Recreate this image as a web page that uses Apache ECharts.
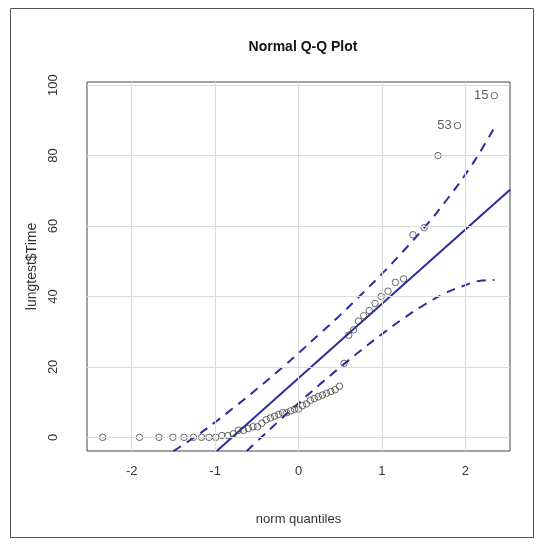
<!DOCTYPE html>
<html>
<head>
<meta charset="utf-8">
<script src="https://cdn.jsdelivr.net/npm/echarts@6/dist/echarts.min.js"></script>
<style>html,body{margin:0;padding:0;background:#fff;}#c{width:541px;height:544px;}</style>
</head>
<body>
<div id="c"></div>
<script>
// theoretical normal quantiles (x) and observed lungtest$Time (y)
var qx = [-2.348,-1.906,-1.673,-1.506,-1.373,-1.260,-1.162,-1.073,-0.993,-0.918,-0.848,-0.782,-0.720,-0.660,-0.602,-0.546,-0.492,-0.440,-0.388,-0.337,-0.287,-0.238,-0.190,-0.142,-0.095,-0.047,0.000,0.047,0.095,0.142,0.190,0.238,0.287,0.337,0.388,0.440,0.492,0.546,0.602,0.660,0.720,0.782,0.848,0.918,0.993,1.073,1.162,1.260,1.373,1.506,1.673,1.906,2.348];
var qy = [0,0,0,0,0,0,0,0,0,0.5,0.5,1,2,2,2.5,3,3,4,5,5.5,6,6.5,7,7,7.5,8,8,9,9.5,10.5,11,11.5,12,12.5,13,13.5,14.5,21,29,30.5,33,34.5,36,38,40,41.5,44,45,57.5,59.5,80,88.5,97];
var pointLabels = {51: '53', 52: '15'};
// reference line endpoints
var refX = [-0.98, 2.536];
var refY = [-3.88, 70.3];
// confidence envelope
var upX = [-1.5,-1.2,-1.0,-0.75,-0.5,-0.25,0,0.25,0.5,0.75,1.0,1.25,1.5,1.75,2.0,2.2,2.348];
var upY = [-3.9,0.8,4.3,8.9,13.7,18.7,23.9,29.3,34.7,40.5,46.4,52.7,59.3,66.6,74.6,81.9,87.9];
var loX = [-0.62,-0.5,-0.25,0,0.25,0.5,0.75,1.0,1.25,1.5,1.75,2.0,2.2,2.348];
var loY = [-3.9,-1.2,4.3,9.7,14.9,19.9,24.7,29.3,33.6,37.5,40.8,43.2,44.5,44.7];
var xTicks = [-2,-1,0,1,2];
var yTicks = [0,20,40,60,80,100];

var pair = function(xs, ys){ return xs.map(function(v,i){ return [v, ys[i]]; }); };
var FONT = 'Liberation Sans, Arial, sans-serif';
var BLUE = '#2c2c9c';

var chart = echarts.init(document.getElementById('c'));
var pts = qx.map(function(v,i){
  var d = {value:[v, qy[i]]};
  if (pointLabels[i]) d.label = {show:true, formatter: pointLabels[i], position:'left', distance:2, color:'#333', fontSize:13, fontFamily:FONT};
  return d;
});
var grid = [];
xTicks.forEach(function(t){ grid.push({xAxis:t}); });
yTicks.forEach(function(t){ grid.push({yAxis:t}); });

chart.setOption({
  animation:false,
  backgroundColor:'#fff',
  grid:{left:87, top:82, width:423, height:369, show:true, borderColor:'#444', borderWidth:1, backgroundColor:'transparent'},
  xAxis:{type:'value', min:-2.536, max:2.536,
    axisLine:{show:false},
    splitLine:{show:false},
    axisTick:{show:true, length:7, customValues:xTicks, lineStyle:{color:'#444'}},
    axisLabel:{customValues:xTicks, margin:14, color:'#333', fontSize:13, fontFamily:FONT},
    name:'norm quantiles', nameLocation:'middle', nameGap:62,
    nameTextStyle:{color:'#333', fontSize:13, fontFamily:FONT}
  },
  yAxis:{type:'value', min:-3.88, max:100.88,
    axisLine:{show:false},
    splitLine:{show:false},
    axisTick:{show:true, length:10, customValues:yTicks, lineStyle:{color:'#444'}},
    axisLabel:{customValues:yTicks, rotate:90, margin:27, color:'#333', fontSize:13, fontFamily:FONT},
    name:'lungtest$Time', nameLocation:'middle', nameGap:47, nameRotate:90,
    nameTextStyle:{color:'#333', fontSize:14, fontFamily:FONT}
  },
  title:{text:'Normal Q-Q Plot', left:298, top:35, textAlign:'center',
    textStyle:{fontSize:14, fontWeight:'bold', color:'#111', fontFamily:FONT}},
  graphic:[{type:'rect', shape:{x:10.5, y:8.5, width:523, height:529}, style:{fill:'none', stroke:'#555', lineWidth:1}, silent:true, z:-1}],
  series:[
    {type:'line', data:[], silent:true, z:1,
      markLine:{silent:true, symbol:'none', label:{show:false}, animation:false,
        lineStyle:{color:'#dcdcdc', width:1, type:'solid'}, data:grid}},
    {type:'line', data:pair(refX, refY), symbol:'none', z:3, clip:true,
      lineStyle:{color:BLUE, width:2}},
    {type:'line', data:pair(upX, upY), symbol:'none', smooth:true, z:3, clip:true,
      lineStyle:{color:BLUE, width:2, type:[9,7]}},
    {type:'line', data:pair(loX, loY), symbol:'none', smooth:true, z:3, clip:true,
      lineStyle:{color:BLUE, width:2, type:[9,7]}},
    {type:'scatter', data:pts, symbol:'circle', symbolSize:6.5, z:4,
      itemStyle:{color:'rgba(255,255,255,0)', borderColor:'#444', borderWidth:1}}
  ]
});
</script>
</body>
</html>
